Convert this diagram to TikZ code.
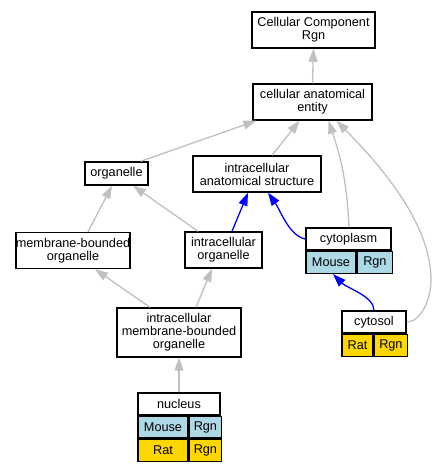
\documentclass[tikz,border=0pt]{standalone}
\usepackage{fontspec}
\setmainfont{Liberation Sans}
\usetikzlibrary{arrows.meta}
\definecolor{mouseblue}{HTML}{ADD8E6}
\definecolor{ratgold}{HTML}{FFD700}
\definecolor{edgegray}{HTML}{C0C0C0}

\begin{document}
\begin{tikzpicture}[x=1pt,y=-1pt,
    term/.style={draw,line width=1.4pt,inner sep=0pt,align=center,font=\fontsize{12.7}{13}\selectfont},
    cell/.style={term,minimum height=22pt},
    isa/.style={draw=edgegray,line width=1.3pt,-{Triangle[length=13pt,width=9pt]}},
    partof/.style={isa,draw=blue}]
  \fill[white] (0,0) rectangle (437,469);
  \useasboundingbox (0,0) rectangle (437,469);
  % terms
  \node[term,minimum width=123pt,minimum height=36pt] (ccr) at (313.5,30) {Cellular Component\\Rgn};
  \node[term,minimum width=119pt,minimum height=36pt] (cae) at (312.5,102) {cellular anatomical\\entity};
  \node[term,minimum width=63pt,minimum height=23pt] (org) at (116.5,173.5) {organelle};
  \node[term,minimum width=128pt,minimum height=36pt] (ias) at (257,174) {intracellular\\anatomical structure};
  \node[term,minimum width=114pt,minimum height=36pt] (mbo) at (73,250.5) {membrane-bounded\\organelle};
  \node[term,minimum width=77pt,minimum height=36pt] (io) at (223.5,250) {intracellular\\organelle};
  \node[term,minimum width=124pt,minimum height=49pt] (imbo) at (179,332.5) {intracellular\\membrane-bounded\\organelle};
  % cytoplasm
  \node[cell,minimum width=85pt] (cyto) at (348.5,239) {cytoplasm};
  \node[cell,fill=mouseblue,minimum width=50pt,anchor=north west] (cytomouse) at (cyto.south west) {Mouse};
  \node[cell,fill=mouseblue,minimum width=35pt,anchor=north west] (cytorgn) at (cytomouse.north east) {Rgn};
  % cytosol
  \node[cell,minimum width=64pt] (cytosol) at (374,322) {cytosol};
  \node[cell,fill=ratgold,minimum width=31pt,anchor=north west] (cytosolrat) at (cytosol.south west) {Rat};
  \node[cell,fill=ratgold,minimum width=33pt,anchor=north west] (cytosolrgn) at (cytosolrat.north east) {Rgn};
  % nucleus
  \node[cell,minimum width=82pt] (nuc) at (179,404) {nucleus};
  \node[cell,fill=mouseblue,minimum width=50pt,minimum height=21.7pt,anchor=north west] (nucmouse) at (nuc.south west) {Mouse};
  \node[cell,fill=mouseblue,minimum width=32pt,minimum height=21.7pt,anchor=north west] (nucmrgn) at (nucmouse.north east) {Rgn};
  \node[cell,fill=ratgold,minimum width=50pt,minimum height=21.7pt,anchor=north west] (nucrat) at (nucmouse.south west) {Rat};
  \node[cell,fill=ratgold,minimum width=32pt,minimum height=21.7pt,anchor=north west] (nucrrgn) at (nucrat.north east) {Rgn};
  % is_a
  \draw[isa] (cae.north) -- (ccr.south);
  \draw[isa] ([xshift=-8pt]org.north east) -- ([xshift=4pt]cae.south west);
  \draw[isa] ([xshift=15pt]ias.north) -- ([xshift=-13pt]cae.south);
  \draw[isa] ([xshift=0.5pt]cyto.north) .. controls +(-2,-50) and +(10,30) .. ([xshift=16pt]cae.south);
  \draw[isa] (cytosol.east) .. controls +(14,0) and +(0,20) .. (431,280)
    .. controls +(0,-60) and +(38,39) .. ([xshift=24pt]cae.south);
  \draw[isa] ([xshift=15pt]mbo.north) -- ([xshift=-4.5pt]org.south);
  \draw[isa] ([xshift=-25.5pt]io.north) -- ([xshift=16.5pt]org.south);
  \draw[isa] ([xshift=-29pt]imbo.north) -- ([xshift=22pt]mbo.south);
  \draw[isa] ([xshift=17pt]imbo.north) -- ([xshift=-11.5pt]io.south);
  \draw[isa] (nuc.north) -- (imbo.south);
  % part_of
  \draw[partof] ([xshift=8.5pt]io.north) -- ([xshift=-9pt]ias.south);
  \draw[partof] (cyto.west) .. controls +(-16,-3) and +(12,17) .. ([xshift=11pt]ias.south);
  \draw[partof] (cytosol.north) .. controls +(0,-14) and +(14,14) .. ([xshift=2pt]cytomouse.south);
\end{tikzpicture}
\end{document}
